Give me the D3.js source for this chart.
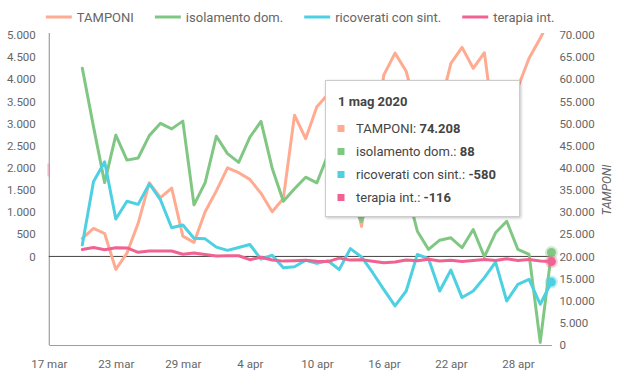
<!DOCTYPE html>
<html><head><meta charset="utf-8">
<script src="https://cdn.jsdelivr.net/npm/d3@7"></script>
<style>
body{margin:0;background:#fff;}
svg{font-family:Roboto, "Noto Sans", sans-serif;display:block;}
</style></head><body>
<svg id="chart" width="620" height="380"></svg>
<script>
// ---------- DATA ----------
const dates = ["2020-03-20","2020-03-21","2020-03-22","2020-03-23","2020-03-24","2020-03-25","2020-03-26","2020-03-27","2020-03-28","2020-03-29",
"2020-03-30","2020-03-31","2020-04-01","2020-04-02","2020-04-03","2020-04-04","2020-04-05","2020-04-06","2020-04-07","2020-04-08",
"2020-04-09","2020-04-10","2020-04-11","2020-04-12","2020-04-13","2020-04-14","2020-04-15","2020-04-16","2020-04-17","2020-04-18",
"2020-04-19","2020-04-20","2020-04-21","2020-04-22","2020-04-23","2020-04-24","2020-04-25","2020-04-26","2020-04-27","2020-04-28",
"2020-04-29","2020-04-30","2020-05-01"];
const tamponi = [24100,26336,25180,17066,20754,27481,36615,33271,35447,24592,
23166,30100,34800,40000,38900,37400,34250,30100,33100,51900,
46600,53800,56609,46720,38077,26779,43715,61000,65900,61800,
52000,41000,53500,63600,67200,62480,66000,47000,42000,58200,
64740,69260,74208];
const isolamento = [4250,2931,1667,2739,2175,2223,2728,3005,2880,3055,
1164,1668,2714,2322,2123,2691,3050,1993,1244,1527,
1789,1661,2300,2319,1270,790,1602,2082,1597,1550,
569,158,367,421,196,608,-7,533,794,158,
45,-1942,88];
const ricoverati = [263,1688,2138,846,1245,1175,1641,1276,647,710,
409,397,211,137,201,269,-61,27,-258,-233,
-86,-157,-98,-297,176,-12,-368,-750,-1118,-781,
45,-52,-781,-308,-929,-781,-479,-128,-1006,-630,
-518,-1080,-580];
const terapia = [157,202,152,195,192,93,123,120,124,50,
75,42,12,18,15,-74,-17,-79,-106,-99,
-88,-108,-116,-38,-83,-74,-107,-143,-124,-79,
-98,-62,-102,-87,-117,-94,-71,-93,-53,-93,
-68,-101,-116];
const seriesNames = ["TAMPONI","isolamento dom.","ricoverati con sint.","terapia int."];
const seriesColors = ["#FFAB91","#81C784","#4DD0E1","#F06292"];
const seriesAxis = ["right","left","left","left"];
const leftTicks = [0,500,1000,1500,2000,2500,3000,3500,4000,4500,5000];
const rightTicks = [0,5000,10000,15000,20000,25000,30000,35000,40000,45000,50000,55000,60000,65000,70000];
const xTicks = ["2020-03-17","2020-03-23","2020-03-29","2020-04-04","2020-04-10","2020-04-16","2020-04-22","2020-04-28"];
const xDomain = ["2020-03-17","2020-05-01"];
const leftDomain = [-2000,5000];
const rightDomain = [0,70000];
const rightTitle = "TAMPONI";

// ---------- SETUP ----------
const values = [tamponi, isolamento, ricoverati, terapia];
const parse = d3.timeParse("%Y-%m-%d");
const it = d3.timeFormatLocale({
  dateTime:"%A %e %B %Y, %X", date:"%d/%m/%Y", time:"%H:%M:%S", periods:["AM","PM"],
  days:["domenica","lunedì","martedì","mercoledì","giovedì","venerdì","sabato"],
  shortDays:["dom","lun","mar","mer","gio","ven","sab"],
  months:["gennaio","febbraio","marzo","aprile","maggio","giugno","luglio","agosto","settembre","ottobre","novembre","dicembre"],
  shortMonths:["gen","feb","mar","apr","mag","giu","lug","ago","set","ott","nov","dic"]
});
const nf = d3.formatLocale({decimal:",", thousands:".", grouping:[3], currency:["€",""], minus:"-"}).format(",d");
const fmtTick = it.format("%-d %b");
const fmtTip = it.format("%-d %b %Y");

const L = 48.8, R = 551.4, T = 35, B = 345;
const svg = d3.select("#chart");
const x = d3.scaleTime().domain(xDomain.map(parse)).range([L, R]);
const yL = d3.scaleLinear().domain(leftDomain).range([B, T]);
const yR = d3.scaleLinear().domain(rightDomain).range([B, T]);
const yOf = i => seriesAxis[i] === "right" ? yR : yL;
const dts = dates.map(parse);

const defs = svg.append("defs");
defs.append("clipPath").attr("id","clip").append("rect")
  .attr("x", L-2).attr("y", T-2).attr("width", R-L+4).attr("height", B-T+4);
defs.append("clipPath").attr("id","clipdots").append("rect")
  .attr("x", L-10).attr("y", T-2).attr("width", R-L+20).attr("height", B-T+12);
const f = defs.append("filter").attr("id","shadow").attr("x","-20%").attr("y","-20%").attr("width","140%").attr("height","140%");
f.append("feDropShadow").attr("dx",1).attr("dy",1).attr("stdDeviation",1.5).attr("flood-color","#000").attr("flood-opacity",0.25);

// ---------- AXES ----------
const tickColor = "#666";
const gL = svg.append("g").attr("transform",`translate(${L},0)`)
  .call(d3.axisLeft(yL).tickValues(leftTicks).tickSize(0).tickSizeOuter(0).tickPadding(13).tickFormat(nf));
gL.select(".domain").attr("stroke","#9e9e9e").attr("stroke-width",1.2).attr("d",`M0.5,${T-2}V${B}`);
gL.selectAll("text").attr("fill",tickColor).style("font-size","11.5px").style("font-family","Roboto");

const gR = svg.append("g").attr("transform",`translate(${R},0)`)
  .call(d3.axisRight(yR).tickValues(rightTicks).tickSize(0).tickSizeOuter(0).tickPadding(8).tickFormat(nf));
gR.select(".domain").remove();
gR.selectAll("text").attr("fill",tickColor).style("font-size","11.5px").style("font-family","Roboto");

const gB = svg.append("g").attr("transform",`translate(0,${B})`)
  .call(d3.axisBottom(x).tickValues(xTicks.map(parse)).tickSize(0).tickSizeOuter(0).tickPadding(15).tickFormat(fmtTick));
gB.select(".domain").attr("stroke","#9e9e9e").attr("stroke-width",1.2);
gB.selectAll("text").attr("fill",tickColor).style("font-size","11.5px").style("font-family","Roboto");

svg.append("text").attr("transform",`translate(611,${(T+B)/2}) rotate(-90)`)
  .attr("text-anchor","middle").attr("fill",tickColor)
  .style("font-size","12px").style("font-style","italic").text(rightTitle);

// zero baseline
svg.append("line").attr("x1",L).attr("x2",R).attr("y1",yL(0)).attr("y2",yL(0))
  .attr("stroke","#444").attr("stroke-width",1);

// small pink artefact on left axis
svg.append("rect").attr("x",L-1.5).attr("y",yL(2100)).attr("width",2).attr("height",13)
  .attr("fill","#F06292").attr("opacity",0.35);

// ---------- LINES ----------
const gLines = svg.append("g").attr("clip-path","url(#clip)");
values.forEach((vals, s) => {
  const line = d3.line().x((d,i)=>x(dts[i])).y(d=>yOf(s)(d));
  gLines.append("path").datum(vals).attr("d", line)
    .attr("fill","none").attr("stroke", seriesColors[s]).attr("stroke-width",3)
    .attr("stroke-linejoin","round").attr("stroke-linecap","round");
});

// ---------- FOCUS DOTS ----------
const last = dates.length - 1;
const gDots = svg.append("g").attr("clip-path","url(#clipdots)");
values.forEach((vals, s) => {
  const cx = x(dts[last]), cy = yOf(s)(vals[last]);
  gDots.append("circle").attr("cx",cx).attr("cy",cy).attr("r",6.5)
    .attr("fill",seriesColors[s]).attr("opacity",0.35);
  gDots.append("circle").attr("cx",cx).attr("cy",cy).attr("r",4.5)
    .attr("fill",seriesColors[s]);
});

// ---------- LEGEND ----------
const gLeg = svg.append("g");
const items = [];
seriesNames.forEach((n, s) => {
  const g = gLeg.append("g");
  g.append("line").attr("x1",0).attr("x2",26).attr("y1",0).attr("y2",0)
    .attr("stroke",seriesColors[s]).attr("stroke-width",3);
  const t = g.append("text").attr("x",31).attr("y",4.5).attr("fill","#666")
    .style("font-size","13px").text(n);
  const w = 31 + t.node().getComputedTextLength();
  items.push({g, w});
});
const gap = 21;
const total = d3.sum(items, d=>d.w) + gap*(items.length-1);
let sx = (L+R)/2 - total/2;
items.forEach(d => { d.g.attr("transform",`translate(${sx},17)`); sx += d.w + gap; });

// ---------- TOOLTIP ----------
const tip = svg.append("g").attr("transform","translate(325,80)");
tip.append("rect").attr("x",0.5).attr("y",0.5).attr("width",194).attr("height",136)
  .attr("fill","#fff").attr("stroke","#ccc").attr("filter","url(#shadow)");
tip.append("text").attr("x",13).attr("y",26).attr("fill","#444")
  .style("font-size","13px").style("font-weight","bold").text(fmtTip(dts[last]));
seriesNames.forEach((n, s) => {
  const cy = 48.5 + s*23;
  tip.append("rect").attr("x",12.5).attr("y",cy-3.5).attr("width",7).attr("height",7)
    .attr("fill",seriesColors[s]);
  const t = tip.append("text").attr("x",31).attr("y",cy+4.5).attr("fill","#444").style("font-size","13px");
  t.append("tspan").text(n + ": ");
  t.append("tspan").style("font-weight","bold").text(nf(values[s][last]));
});
</script>
</body></html>
